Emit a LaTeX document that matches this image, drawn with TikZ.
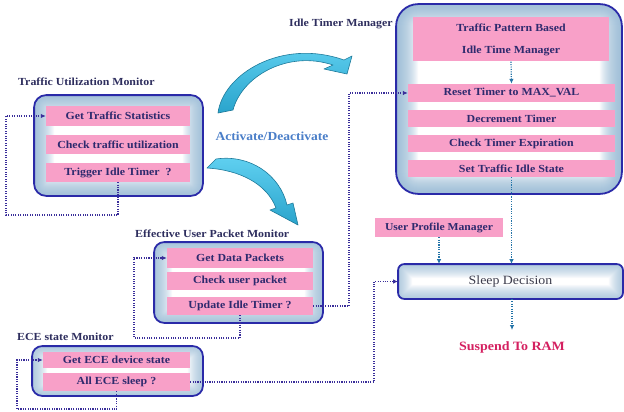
\documentclass[tikz,border=0pt]{standalone}
\usepackage{fontspec}
\setmainfont{Liberation Serif}[FakeStretch=1.1]
\usetikzlibrary{arrows.meta}

\definecolor{boxline}{HTML}{2A2AA8}
\definecolor{boxedge}{HTML}{8FB6D4}
\definecolor{rowpink}{HTML}{F8A0C8}
\definecolor{rowtext}{HTML}{2E2A6E}
\definecolor{hdrtext}{HTML}{2E2E5E}
\definecolor{loopcol}{HTML}{3A2E9A}
\definecolor{flowcol}{HTML}{2474A8}
\definecolor{actcol}{HTML}{4A7EC8}
\definecolor{suspcol}{HTML}{D42060}
\definecolor{sleeptext}{HTML}{3C3C4C}
\definecolor{arrowlight}{HTML}{62D2F2}
\definecolor{arrowdark}{HTML}{2AA4CC}
\definecolor{arrowedge}{HTML}{1E7A9A}

% soft blue glow inside a module frame (#1 node, #2 corner radius,
% #3 widest glow stroke), then its border
\newcommand\glowframe[3]{%
  \begin{scope}
    \clip[rounded corners=#2] (#1.south west) rectangle (#1.north east);
    \foreach \gw in {2,4,...,#3} {
      \draw[boxedge, line width=\gw pt, opacity=0.07, rounded corners=#2]
        (#1.south west) rectangle (#1.north east);
    }
  \end{scope}
  \draw[boxline, line width=1.8pt, rounded corners=#2]
    (#1.south west) rectangle (#1.north east);
}

\begin{document}
\begin{tikzpicture}[x=1pt,y=-1pt,
  outerbox/.style={fill=white, inner sep=0pt, outer sep=0.9pt},
  rowbox/.style={fill=rowpink, text=rowtext, inner sep=0pt,
    font=\bfseries\fontsize{10.8}{12.5}\selectfont},
  hdr/.style={anchor=west, text=hdrtext, inner sep=0pt,
    font=\bfseries\fontsize{10.8}{12.5}\selectfont},
  loopline/.style={draw=loopcol, line width=1.2pt, dash pattern=on 1.1pt off 1.3pt,
    -{Latex[length=5pt,width=4.5pt]}},
  flowline/.style={draw=flowcol, line width=1.2pt, dash pattern=on 1.1pt off 1.3pt,
    -{Latex[length=5pt,width=4.5pt]}},
  bigarrow/.style={top color=arrowlight, bottom color=arrowdark,
    draw=arrowedge, line width=0.6pt, line join=round}]
\useasboundingbox (0,0) rectangle (624,412);

% ---------- Traffic Utilization Monitor ----------
\node[hdr] (tumlbl) at (18,82) {Traffic Utilization Monitor};
\node[outerbox, rounded corners=12pt, minimum width=167pt, minimum height=99pt] (tumbox) at (118.5,145.5) {};
\glowframe{tumbox}{12pt}{40}
\node[rowbox, minimum width=144pt, minimum height=20pt] (tum1) at (118,116) {Get Traffic Statistics};
\node[rowbox, minimum width=144pt, minimum height=19pt] (tum2) at (118,144.5) {Check traffic utilization};
\node[rowbox, minimum width=144pt, minimum height=19pt] (tum3) at (118,172.5) {Trigger Idle Timer\ \ ?};
\coordinate (tumloop) at (6,215);
\draw[loopline] (tum3.south) |- (tumloop) |- (tum1.west);

% ---------- Effective User Packet Monitor ----------
\node[hdr] (eulbl) at (135,234) {Effective User Packet Monitor};
\node[outerbox, rounded corners=10pt, minimum width=167pt, minimum height=79pt] (eubox) at (238.5,282.5) {};
\glowframe{eubox}{10pt}{36}
\node[rowbox, minimum width=146pt, minimum height=20pt] (eu1) at (240,258) {Get Data Packets};
\node[rowbox, minimum width=146pt, minimum height=18pt] (eu2) at (240,281) {Check user packet};
\node[rowbox, minimum width=146pt, minimum height=18pt] (eu3) at (240,306) {Update Idle Timer ?};
\coordinate (euloop) at (134,338);
\draw[loopline] (eu3.south) |- (euloop) |- (eu1.west);

% ---------- ECE state Monitor ----------
\node[hdr] (ecelbl) at (17,337) {ECE state Monitor};
\node[outerbox, rounded corners=10pt, minimum width=169pt, minimum height=48pt] (ecebox) at (117.5,371) {};
\glowframe{ecebox}{10pt}{30}
\node[rowbox, minimum width=147pt, minimum height=16pt] (ece1) at (116.5,360) {Get ECE device state};
\node[rowbox, minimum width=147pt, minimum height=18pt] (ece2) at (116.5,382) {All ECE sleep ?};
\coordinate (eceloop) at (17,409);
\draw[loopline] (ece2.south) |- (eceloop) |- (ece1.west);

% ---------- Idle Timer Manager ----------
\node[hdr] (itmlbl) at (289,24) {Idle Timer Manager};
\node[outerbox, rounded corners=22pt, minimum width=224pt, minimum height=188pt] (itmbox) at (509,99) {};
\glowframe{itmbox}{22pt}{44}
\node[rowbox, minimum width=196pt, minimum height=44pt, align=center] (itm0) at (511,39.5)
  {Traffic Pattern Based\\[9.5pt]Idle Time Manager};
\node[rowbox, minimum width=207pt, minimum height=18pt] (itm1) at (511.5,93) {Reset Timer to MAX\_VAL};
\node[rowbox, minimum width=207pt, minimum height=17pt] (itm2) at (511.5,118.5) {Decrement Timer};
\node[rowbox, minimum width=207pt, minimum height=17pt] (itm3) at (511.5,143.5) {Check Timer Expiration};
\node[rowbox, minimum width=207pt, minimum height=17pt] (itm4) at (511.5,168.5) {Set Traffic Idle State};
\draw[flowline] (itm0.south) -- (itm1.north);

% ---------- Sleep decision ----------
\node[rowbox, minimum width=128pt, minimum height=19pt, font=\bfseries\fontsize{10.6}{12}\selectfont] (upm) at (439,227.5) {User Profile Manager};
\node[outerbox, rounded corners=6pt, minimum width=223pt, minimum height=33pt] (sleep) at (510.5,281.5) {};
\glowframe{sleep}{6pt}{28}
\node[text=sleeptext, font=\fontsize{12.6}{14}\selectfont, inner sep=0pt] (sleeplbl) at (sleep) {Sleep Decision};
\node[text=suspcol, font=\bfseries\fontsize{12.7}{14}\selectfont, inner sep=1pt] (suspend) at (512,347) {Suspend To RAM};

\draw[flowline] (itm4.south) -- (itm4.south |- sleep.north);
\draw[flowline] (upm.south) -- (upm.south |- sleep.north);
\draw[flowline, shorten >=10pt] (sleep.south -| suspend.north) -- (suspend.north);

% ---------- cross-module links ----------
\coordinate (euup) at (349,306);
\draw[loopline] (eu3.east) -- (euup) |- (itm1.west);
\coordinate (eceup) at (374,382);
\draw[loopline] (ece2.east) -- (eceup) |- (sleep.west);

% ---------- Activate / Deactivate ----------
\node[text=actcol, font=\bfseries\fontsize{12.3}{14}\selectfont] (act) at (272,136) {Activate/Deactivate};
\shade[bigarrow]
  (218,113) .. controls (223,74) and (282,38) .. (344,60)
  -- (352,56) -- (347,74) -- (324,69) -- (333,65)
  .. controls (288,50) and (242,76) .. (233,110) -- cycle;
\shade[bigarrow]
  (216,159) .. controls (250,154) and (280,175) .. (287,205)
  -- (293,203) -- (298,225) -- (270,210) -- (276,208)
  .. controls (267,184) and (240,170) .. (207,168) -- cycle;
\end{tikzpicture}
\end{document}
